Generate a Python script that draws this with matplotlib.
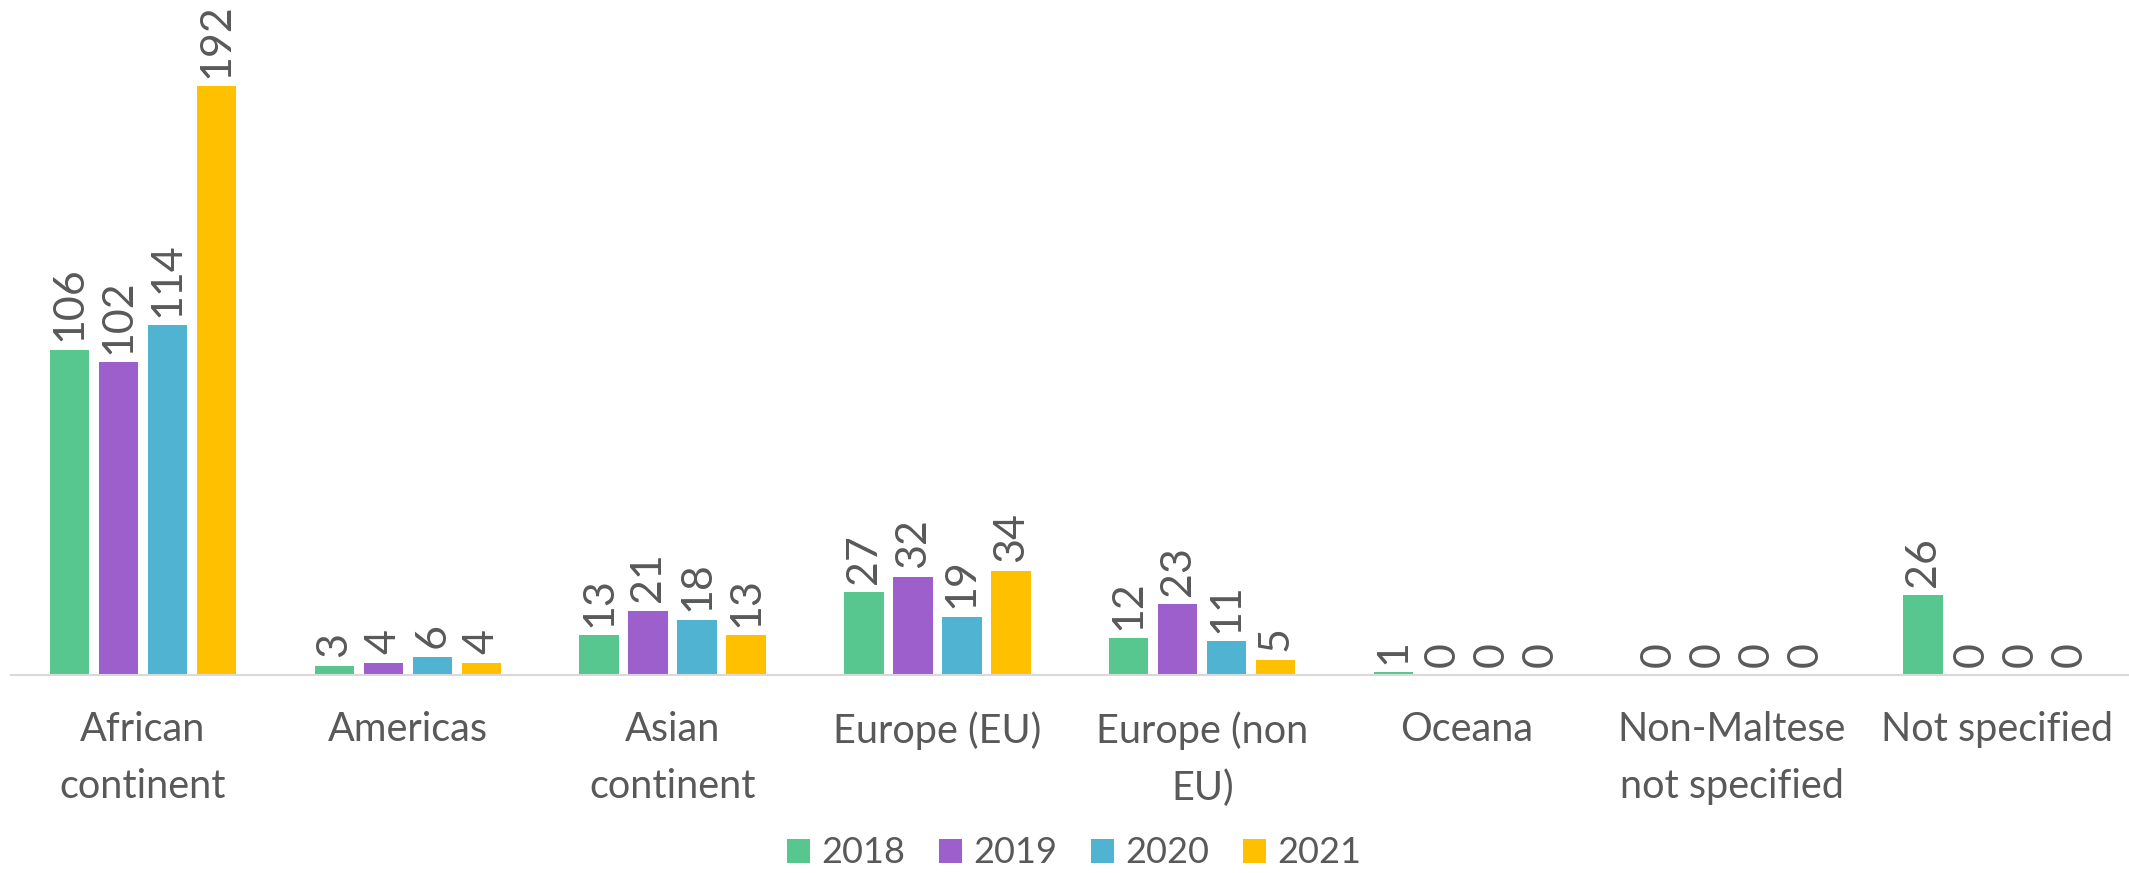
import numpy as np
import matplotlib.pyplot as plt

plt.rcParams['font.family'] = ['Lato', 'DejaVu Sans']

categories = ["African\ncontinent", "Americas", "Asian\ncontinent", "Europe (EU)",
              "Europe (non\nEU)", "Oceana", "Non-Maltese\nnot specified", "Not specified"]
years = ["2018", "2019", "2020", "2021"]
v2018 = [106, 3, 13, 27, 12, 1, 0, 26]
v2019 = [102, 4, 21, 32, 23, 0, 0, 0]
v2020 = [114, 6, 18, 19, 11, 0, 0, 0]
v2021 = [192, 4, 13, 34, 5, 0, 0, 0]
series = [v2018, v2019, v2020, v2021]
colors = ["#57C78F", "#9C5FCB", "#4FB3D1", "#FFC000"]

TEXT = "#595959"

fig = plt.figure(figsize=(21.29, 8.73), dpi=100)
ax = fig.add_axes([0.005, 0.2268, 0.995, 0.7732])

x = np.arange(len(categories))
step = 0.185
width = 0.149
for i, (vals, col, yr) in enumerate(zip(series, colors, years)):
    pos = x + (i - 1.5) * step
    bars = ax.bar(pos, vals, width, color=col, label=yr, zorder=2)
    for b, v in zip(bars, vals):
        ax.annotate(str(v), (b.get_x() + b.get_width() / 2, v),
                    xytext=(0, 6), textcoords="offset points",
                    rotation=90, ha="center", va="bottom",
                    fontsize=31, color=TEXT)

ax.set_xlim(-0.5, len(categories) - 0.5)
ax.set_ylim(0, 220)
ax.set_yticks([])
for s in ["top", "right", "left"]:
    ax.spines[s].set_visible(False)
ax.spines["bottom"].set_color("#D9D9D9")
ax.spines["bottom"].set_linewidth(1.5)
ax.set_xticks(x)
ax.set_xticklabels(categories, fontsize=28.5, color=TEXT, linespacing=1.65)
ax.tick_params(axis="x", length=0, pad=26)

fig.legend(loc="center", bbox_to_anchor=(0.5045, 0.023), ncol=4, frameon=False,
           fontsize=26, labelcolor=TEXT, handlelength=0.64, handleheight=0.64,
           handletextpad=0.3, columnspacing=0.94)

fig.savefig("out.png", dpi=100)
